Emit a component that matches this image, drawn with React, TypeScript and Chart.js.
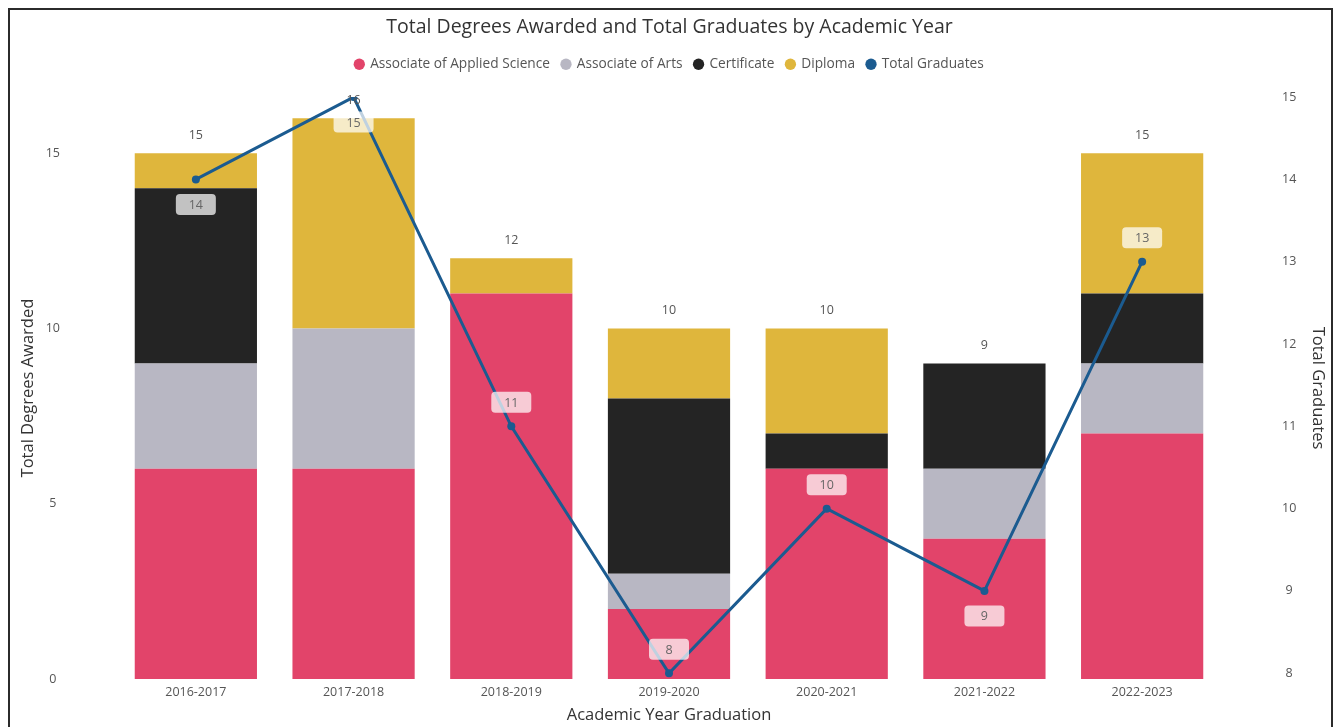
import React, { useEffect, useRef } from 'react';
import { Chart, registerables } from 'chart.js';

Chart.register(...registerables);

const categories = ['2016-2017', '2017-2018', '2018-2019', '2019-2020', '2020-2021', '2021-2022', '2022-2023'];
const associateAppliedScience = [6, 6, 11, 2, 6, 4, 7];
const associateArts = [3, 4, 0, 1, 0, 2, 2];
const certificate = [5, 0, 0, 5, 1, 3, 2];
const diploma = [1, 6, 1, 2, 3, 0, 4];
const totalGraduates = [14, 15, 11, 8, 10, 9, 13];
const graduateLabelSide = ['below', 'below', 'above', 'above', 'above', 'below', 'above'];

const FONT = "'Open Sans', 'Noto Sans', sans-serif";
const COLORS = {
  aas: '#E2446A',
  aa: '#B8B7C3',
  cert: '#242424',
  diploma: '#DFB63C',
  line: '#1B5B90',
};

const totalsPlugin = {
  id: 'barTotals',
  afterDatasetsDraw(chart: any) {
    const ctx = chart.ctx;
    const x = chart.scales.x;
    const y = chart.scales.y;
    ctx.save();
    ctx.font = `12.5px ${FONT}`;
    ctx.fillStyle = '#555555';
    ctx.textAlign = 'center';
    ctx.textBaseline = 'middle';
    categories.forEach((_, i) => {
      const total = associateAppliedScience[i] + associateArts[i] + certificate[i] + diploma[i];
      ctx.fillText(String(total), x.getPixelForValue(i), y.getPixelForValue(total) - 18);
    });
    ctx.restore();
  },
};

const lineLabelPlugin = {
  id: 'lineLabels',
  afterDatasetsDraw(chart: any) {
    const ctx = chart.ctx;
    const meta = chart.getDatasetMeta(4);
    ctx.save();
    ctx.font = `12.5px ${FONT}`;
    ctx.textAlign = 'center';
    ctx.textBaseline = 'middle';
    meta.data.forEach((pt: any, i: number) => {
      const cy = graduateLabelSide[i] === 'above' ? pt.y - 24 : pt.y + 25;
      const w = 40;
      const h = 21;
      ctx.fillStyle = 'rgba(255,255,255,0.72)';
      ctx.beginPath();
      (ctx as any).roundRect(pt.x - w / 2, cy - h / 2, w, h, 4);
      ctx.fill();
      ctx.fillStyle = '#666666';
      ctx.fillText(String(totalGraduates[i]), pt.x, cy + 1);
    });
    ctx.restore();
  },
};

const fixYPadding = (width: number) => (s: any) => {
  s.width = width;
  s.paddingTop = 7;
  s.paddingBottom = 7;
};

export default function App() {
  const canvasRef = useRef<HTMLCanvasElement | null>(null);

  useEffect(() => {
    if (!canvasRef.current) return;
    const barCommon = { yAxisID: 'y', stack: 'deg', order: 1, barPercentage: 0.775, categoryPercentage: 1 };
    const chart = new Chart(canvasRef.current, {
      type: 'bar',
      data: {
        labels: categories,
        datasets: [
          { type: 'bar', label: 'Associate of Applied Science', data: associateAppliedScience, backgroundColor: COLORS.aas, ...barCommon },
          { type: 'bar', label: 'Associate of Arts', data: associateArts, backgroundColor: COLORS.aa, ...barCommon },
          { type: 'bar', label: 'Certificate', data: certificate, backgroundColor: COLORS.cert, ...barCommon },
          { type: 'bar', label: 'Diploma', data: diploma, backgroundColor: COLORS.diploma, ...barCommon },
          {
            type: 'line', label: 'Total Graduates', data: totalGraduates, yAxisID: 'y1', order: 0,
            borderColor: COLORS.line, backgroundColor: COLORS.line, borderWidth: 3,
            pointRadius: 4, pointBackgroundColor: COLORS.line, pointBorderWidth: 0, tension: 0,
          },
        ] as any,
      },
      options: {
        responsive: false,
        animation: false,
        layout: { padding: 0 },
        plugins: {
          title: {
            display: true,
            text: 'Total Degrees Awarded and Total Graduates by Academic Year',
            color: '#333333',
            font: { family: FONT, size: 19.5, weight: 'normal', lineHeight: 1.2 },
            padding: { top: 16, bottom: 6 },
          },
          subtitle: {
            display: true,
            text: '',
            position: 'top',
            weight: 500,
            font: { size: 1, lineHeight: 1 },
            padding: { top: 0, bottom: 15 },
          } as any,
          legend: {
            display: true,
            position: 'top',
            labels: {
              usePointStyle: true,
              pointStyle: 'circle',
              boxWidth: 8,
              boxHeight: 8,
              padding: 12,
              color: '#555555',
              font: { family: FONT, size: 13.7 },
              sort: (a: any, b: any) => a.datasetIndex - b.datasetIndex,
            },
          },
          tooltip: { enabled: false },
        },
        scales: {
          x: {
            stacked: true,
            grid: { display: false, drawTicks: false },
            border: { display: false },
            ticks: { color: '#555555', font: { family: FONT, size: 12.5 }, padding: 6, maxRotation: 0 },
            title: {
              display: true,
              text: 'Academic Year Graduation',
              color: '#333333',
              font: { family: FONT, size: 16.5, lineHeight: 1.2 },
              padding: { top: 0, bottom: 2 },
            },
            afterFit: (s: any) => { s.height = 48; },
          },
          y: {
            stacked: true,
            position: 'left',
            min: 0,
            max: 16.6,
            grid: { display: false, drawTicks: false },
            border: { display: false },
            ticks: { stepSize: 5, includeBounds: false, crossAlign: 'center', padding: 57, color: '#555555', font: { family: FONT, size: 12.5 } },
            title: {
              display: true,
              text: 'Total Degrees Awarded',
              color: '#333333',
              font: { family: FONT, size: 16.5, lineHeight: 1.2 },
              padding: { top: 18, bottom: 0 },
            },
            afterFit: fixYPadding(117),
          },
          y1: {
            position: 'right',
            min: 7.93,
            max: 15,
            grid: { display: false, drawTicks: false },
            border: { display: false },
            ticks: { stepSize: 1, includeBounds: false, crossAlign: 'center', padding: 61, color: '#555555', font: { family: FONT, size: 12.5 } },
            title: {
              display: true,
              text: 'Total Graduates',
              color: '#333333',
              font: { family: FONT, size: 16.5, lineHeight: 1.2 },
              padding: { top: 11, bottom: 0 },
            },
            afterFit: fixYPadding(118),
          },
        },
      } as any,
      plugins: [totalsPlugin, lineLabelPlugin],
    });
    return () => chart.destroy();
  }, []);

  return (
    <div>
      <div style={{ position: 'fixed', left: 0, top: 0, width: 1339, height: 727, background: '#ffffff' }}>
        <canvas ref={canvasRef} width={1339} height={727} style={{ width: 1339, height: 727, display: 'block' }} />
      </div>
      <div
        style={{
          position: 'fixed', left: 8, top: 8, width: 1325, height: 719, boxSizing: 'border-box',
          borderTop: '2px solid #2b2b2b', borderLeft: '2px solid #2b2b2b', borderRight: '2px solid #2b2b2b',
          pointerEvents: 'none',
        }}
      />
    </div>
  );
}
